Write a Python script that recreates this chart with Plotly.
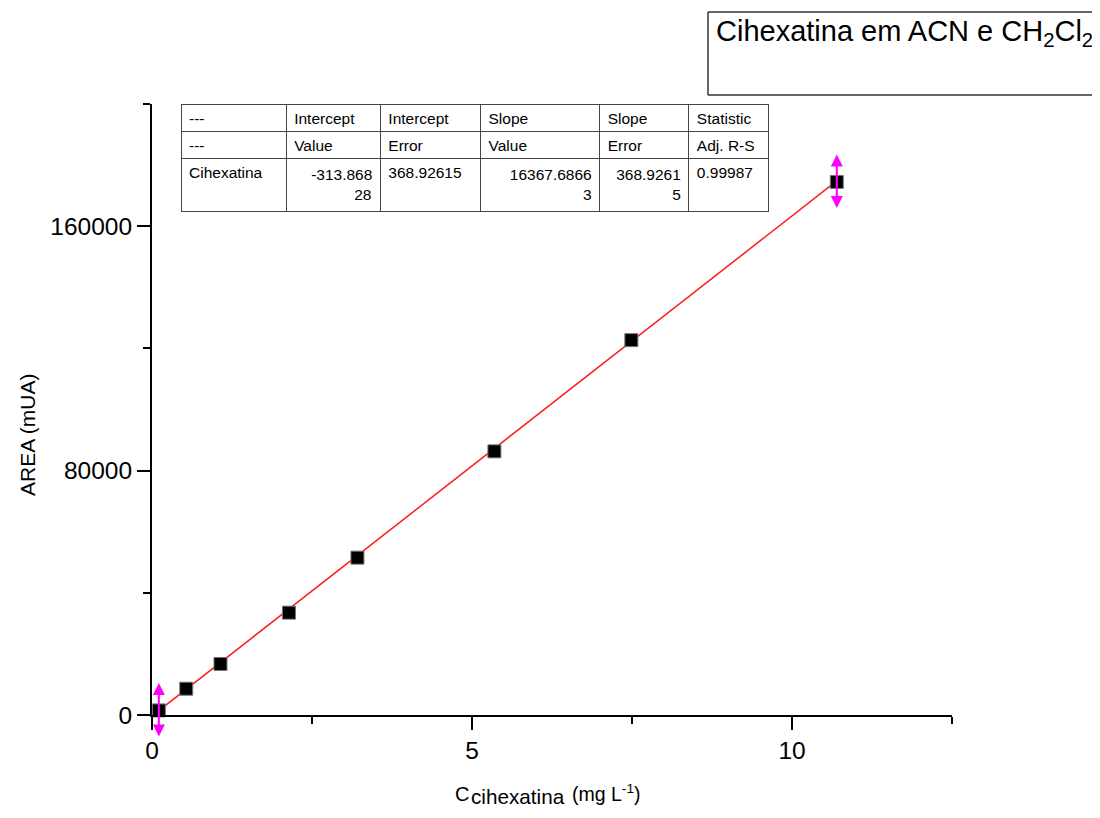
import plotly.graph_objects as go

# ---- data ----
conc = [0.107, 0.535, 1.07, 2.14, 3.21, 5.35, 7.49, 10.7]
area = [1500, 8600, 16700, 33500, 51500, 86300, 122700, 174500]
err = [9000, None, None, None, None, None, None, 9000]

intercept = -313.86828
slope = 16367.68663

NB = "\u00a0"
table_header = ["---", "Intercept", "Intercept", "Slope", "Slope", "Statistic"]
table_row2 = ["---", "Value", "Error", "Value", "Error", "Adj. R-S"]
table_row3 = ["Cihexatina",
              "-313.868<br>" + NB * 10 + "28",
              "368.92615",
              "16367.6866<br>" + NB * 17 + "3",
              "368.9261<br>" + NB * 13 + "5",
              "0.99987"]
row3_align = ["left", "right", "left", "right", "right", "left"]

x_ticks_major = 5
y_ticks_major = 80000
x_range = [0, 12.5]
y_range = [0, 200000]

FONT = "Liberation Sans, Arial, sans-serif"

# page offset (browser body margin)
OFF = 8
W, H = 1100 - 2 * OFF, 818 - 2 * OFF
ml, mt = 152 - OFF, 104 - OFF
pw, ph = 800, 611
mr, mb = W - ml - pw, H - mt - ph


def px_x(p):
    """reference pixel -> paper x"""
    return (p - OFF - ml) / pw


def px_y(p):
    """reference pixel -> paper y"""
    return (mt + ph - (p - OFF)) / ph


fig = go.Figure()

# fit line
fx = [min(conc), max(conc)]
fy = [intercept + slope * v for v in fx]
fig.add_trace(go.Scatter(x=fx, y=fy, mode="lines",
                         line=dict(color="#ff1a1a", width=1.5),
                         showlegend=False, hoverinfo="skip"))

# data points
fig.add_trace(go.Scatter(x=conc, y=area, mode="markers",
                         marker=dict(symbol="square", size=13, color="black",
                                     line=dict(color="#777777", width=1)),
                         cliponaxis=False, showlegend=False))

# results table
header_vals = [[table_header[i], table_row2[i]] for i in range(6)]
cell_vals = [[table_row3[i]] for i in range(6)]
fig.add_trace(go.Table(
    domain=dict(x=[px_x(181), px_x(769)], y=[px_y(235), px_y(104)]),
    columnwidth=[105, 94, 100, 119, 89, 80],
    header=dict(values=header_vals, align="left", height=27,
                font=dict(family=FONT, size=15.5, color="black"),
                fill=dict(color="white"), line=dict(color="#444444", width=1)),
    cells=dict(values=cell_vals, align=row3_align, height=52,
               font=dict(family=FONT, size=15.5, color="black"),
               fill=dict(color="white"), line=dict(color="#444444", width=1)),
))

annotations = []
# error bars with arrow heads
for xv, yv, ev in zip(conc, area, err):
    if ev is None:
        continue
    annotations.append(dict(x=xv, y=yv + ev, ax=xv, ay=yv - ev,
                            xref="x", yref="y", axref="x", ayref="y",
                            text="", showarrow=True, arrowhead=2, arrowside="end+start",
                            arrowsize=1.2, arrowwidth=2, arrowcolor="#ff00ff",
                            standoff=0, startstandoff=0))

# y axis title
annotations.append(dict(x=px_x(27), y=px_y(435), xref="paper", yref="paper",
                        text="AREA (mUA)", textangle=-90, showarrow=False,
                        xanchor="center", yanchor="middle",
                        font=dict(family=FONT, size=21, color="black")))
# x axis title pieces
annotations.append(dict(x=px_x(453), y=px_y(794), xref="paper", yref="paper",
                        text="C", showarrow=False, xanchor="left", yanchor="middle",
                        font=dict(family=FONT, size=20, color="black")))
annotations.append(dict(x=px_x(471), y=px_y(796), xref="paper", yref="paper",
                        text="cihexatina", showarrow=False, xanchor="left", yanchor="middle",
                        borderpad=0, borderwidth=0,
                        font=dict(family=FONT, size=20.7, color="black")))
annotations.append(dict(x=px_x(570), y=px_y(793), xref="paper", yref="paper",
                        text="(mg L<sup>-1</sup>)", showarrow=False, xanchor="left",
                        yanchor="middle",
                        font=dict(family=FONT, size=19.5, color="black")))
# title box text
annotations.append(dict(x=px_x(714), y=px_y(13), xref="paper", yref="paper",
                        text="Cihexatina em ACN e CH<sub>2</sub>Cl<sub>2</sub>",
                        showarrow=False, xanchor="left", yanchor="top",
                        font=dict(family=FONT, size=29, color="black")))

# title frame: left, top and bottom edges (it runs past the right edge)
bx0, bx1, by0, by1 = px_x(708), px_x(1200), px_y(95), px_y(12)
frame = dict(color="#333333", width=1.5)
shapes = [
    dict(type="line", xref="paper", yref="paper", x0=bx0, x1=bx1, y0=by1, y1=by1, line=frame),
    dict(type="line", xref="paper", yref="paper", x0=bx0, x1=bx1, y0=by0, y1=by0, line=frame),
    dict(type="line", xref="paper", yref="paper", x0=bx0, x1=bx0, y0=by0, y1=by1, line=frame),
]

axis_common = dict(showline=True, linecolor="black", linewidth=2, ticks="outside",
                   ticklen=13, tickwidth=2, tickcolor="black", showgrid=False,
                   zeroline=False, mirror=False,
                   tickfont=dict(family=FONT, size=24.5, color="black"))

fig.update_layout(
    width=W, height=H,
    margin=dict(l=ml, r=mr, t=mt, b=mb),
    plot_bgcolor="white", paper_bgcolor="white",
    xaxis=dict(range=x_range, dtick=x_ticks_major, tick0=0,
               minor=dict(dtick=x_ticks_major / 2, ticklen=7, tickwidth=2,
                          tickcolor="black", ticks="outside"),
               **axis_common),
    yaxis=dict(range=y_range, dtick=y_ticks_major, tick0=0, tickformat="d",
               minor=dict(dtick=y_ticks_major / 2, ticklen=7, tickwidth=2,
                          tickcolor="black", ticks="outside"),
               **axis_common),
    annotations=annotations,
    shapes=shapes,
    showlegend=False,
)

fig.write_html("out.html")
